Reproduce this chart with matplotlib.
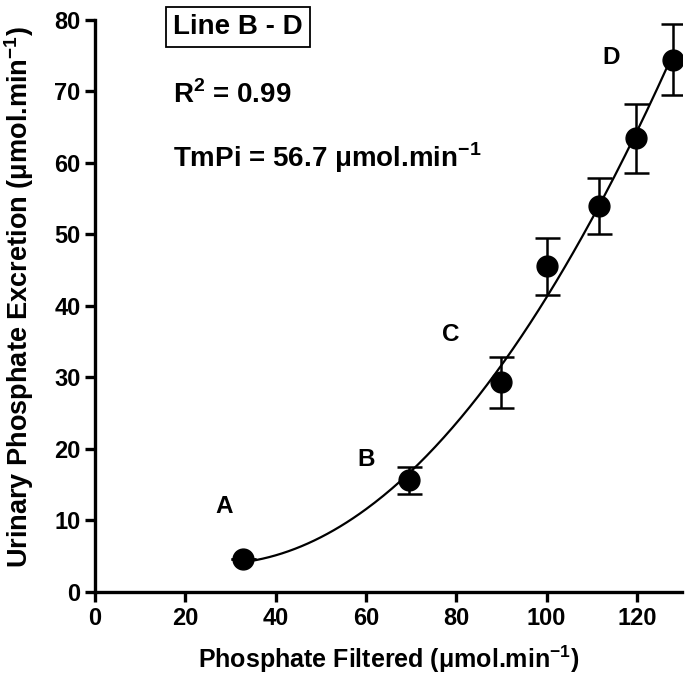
import matplotlib
matplotlib.use("Agg")
import matplotlib.pyplot as plt
import numpy as np

plt.rcParams["font.family"] = ["Liberation Sans", "DejaVu Sans"]
plt.rcParams["font.weight"] = "bold"
plt.rcParams["mathtext.fontset"] = "custom"
plt.rcParams["mathtext.bf"] = "Liberation Sans:bold"
plt.rcParams["mathtext.rm"] = "Liberation Sans:bold"

# phosphate filtered vs urinary excretion, umol/min
filtered = [32.8, 69.6, 90.0, 100.2, 111.5, 119.7, 127.9]
excretion = [4.6, 15.6, 29.3, 45.5, 54.0, 63.4, 74.4]
err = [0.0, 1.9, 3.6, 4.0, 3.9, 4.8, 5.0]

point_labels = ["A", "B", "C", "D"]
label_x = [28.6, 60.0, 78.7, 114.4]
label_y = [11.9, 18.5, 36.0, 74.7]

xticks = [0, 20, 40, 60, 80, 100, 120]
yticks = [0, 10, 20, 30, 40, 50, 60, 70, 80]

fig = plt.figure(figsize=(6.85, 6.88), dpi=100)
ax = fig.add_axes([0.1387, 0.1395, 0.857, 0.832])

# second-order fit through the points
coef = np.polyfit(filtered, excretion, 2)
xs = np.linspace(filtered[0], filtered[-1], 200)
ax.plot(xs, np.polyval(coef, xs), color="black", lw=1.6, zorder=2)

ax.errorbar(filtered, excretion, yerr=err, fmt="o", color="black", ms=15,
            ecolor="black", elinewidth=1.8, capsize=9, capthick=1.8, zorder=3)

for t, x, y in zip(point_labels, label_x, label_y):
    ax.text(x, y, t, fontsize=17.5, fontweight="bold", ha="center", va="center")

ax.text(31.7, 79.0, "Line B - D", fontsize=20, fontweight="bold", ha="center", va="center",
        bbox=dict(boxstyle="square,pad=0.25", fc="white", ec="black", lw=1.3))
ax.text(17.3, 69.5, r"R$^\mathbf{2}$ = 0.99", fontsize=20, fontweight="bold",
        ha="left", va="center")
ax.text(17.3, 60.7, r"TmPi = 56.7 $\mathbf{\mu}$mol.min$^\mathbf{-1}$", fontsize=20,
        fontweight="bold", ha="left", va="center")

ax.set_xlim(0, 130)
ax.set_ylim(0, 80)
ax.set_xticks(xticks)
ax.set_yticks(yticks)
ax.spines["top"].set_visible(False)
ax.spines["right"].set_visible(False)
for s in ("left", "bottom"):
    ax.spines[s].set_linewidth(2.4)
ax.tick_params(width=2.4, length=7, labelsize=17, direction="out")
for lab in ax.get_xticklabels() + ax.get_yticklabels():
    lab.set_fontweight("bold")

ax.set_xlabel(r"Phosphate Filtered ($\mathbf{\mu}$mol.min$^\mathbf{-1}$)",
              fontsize=18, fontweight="bold", labelpad=10)
ax.set_ylabel(r"Urinary Phosphate Excretion ($\mathbf{\mu}$mol.min$^\mathbf{-1}$)",
              fontsize=19.5, fontweight="bold")
ax.yaxis.set_label_coords(-0.1, 0.515)

fig.savefig("out.png", dpi=100)
